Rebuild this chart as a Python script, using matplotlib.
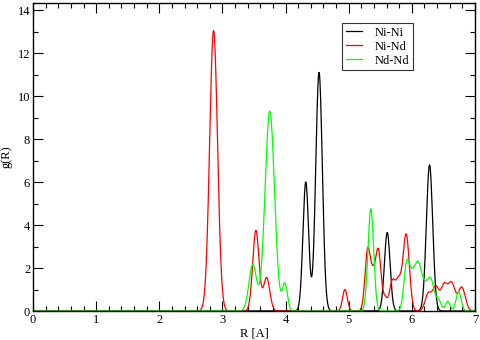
"""Partial radial distribution functions g(R) for Ni-Ni, Ni-Nd and Nd-Nd pairs."""
import numpy as np
import matplotlib
matplotlib.use('Agg')
import matplotlib.pyplot as plt
from matplotlib.ticker import MultipleLocator

plt.rcParams['font.family'] = ['Liberation Serif', 'DejaVu Serif']

# neighbour shells: position [A], peak height, broadening
nini_r = [4.32, 4.53, 5.61, 6.28]
nini_h = [6.0, 11.1, 3.65, 6.8]
nini_w = [0.045, 0.052, 0.045, 0.05]

nind_r = [2.86, 3.53, 3.70, 4.94, 5.30, 5.385, 5.47, 5.575, 5.69, 5.79, 5.91,
          6.26, 6.38, 6.51, 6.63, 6.79]
nind_h = [13.05, 3.75, 1.55, 1.0, 2.8, 1.4, 2.75, 0.55, 1.35, 1.3, 3.55,
          0.8, 1.1, 1.15, 1.28, 1.1]
nind_w = [0.062, 0.05, 0.05, 0.038, 0.042, 0.04, 0.042, 0.035, 0.045, 0.045, 0.05,
          0.05, 0.05, 0.05, 0.055, 0.055]

ndnd_r = [3.48, 3.75, 3.99, 5.35, 5.92, 6.01, 6.10, 6.20, 6.30, 6.42, 6.57, 6.74]
ndnd_h = [2.15, 9.3, 1.25, 4.75, 2.2, 1.3, 2.0, 1.0, 1.4, 0.5, 0.45, 0.9]
ndnd_w = [0.06, 0.075, 0.04, 0.045, 0.045, 0.045, 0.05, 0.05, 0.05, 0.045, 0.035, 0.04]

labels = ['Ni-Ni', 'Ni-Nd', 'Nd-Nd']
colors = ['black', 'red', '#00ff00']

R = np.linspace(0, 7, 1401)


def broaden(rs, hs, ws):
    g = np.zeros_like(R)
    for r0, h, w in zip(rs, hs, ws):
        g += h * np.exp(-0.5 * ((R - r0) / w) ** 2)
    return g


curves = [broaden(nini_r, nini_h, nini_w),
          broaden(nind_r, nind_h, nind_w),
          broaden(ndnd_r, ndnd_h, ndnd_w)]

fig = plt.figure(figsize=(4.8, 3.4), dpi=100)
ax = fig.add_axes([33 / 480, 1 - 311 / 340, 442 / 480, 308 / 340])

for g, lab, c in zip(curves, labels, colors):
    ax.plot(R, g, color=c, lw=0.9, label=lab)

ax.set_xlim(0, 7)
ax.set_ylim(0, 14.33)
ax.xaxis.set_major_locator(MultipleLocator(1))
ax.xaxis.set_minor_locator(MultipleLocator(0.2))
ax.yaxis.set_major_locator(MultipleLocator(2))
ax.yaxis.set_minor_locator(MultipleLocator(1))
ax.tick_params(which='both', direction='in', top=True, right=True,
               labelsize=9, width=0.8, pad=2)
ax.tick_params(which='major', length=7)
ax.tick_params(which='minor', length=3.5)
for s in ax.spines.values():
    s.set_linewidth(1.0)

ax.set_xlabel('R [A]', fontsize=9, labelpad=1)
ax.set_ylabel('g(R)', fontsize=9, labelpad=4)

leg = fig.legend(loc='upper left', bbox_to_anchor=(342 / 480, 1 - 23 / 340),
                 fontsize=9, frameon=True, fancybox=False, handlelength=1.3,
                 borderpad=0.3, labelspacing=0.15, handletextpad=1.0,
                 borderaxespad=0)
leg.get_frame().set_edgecolor('black')
leg.get_frame().set_linewidth(0.8)

fig.savefig('out.png', dpi=100)
